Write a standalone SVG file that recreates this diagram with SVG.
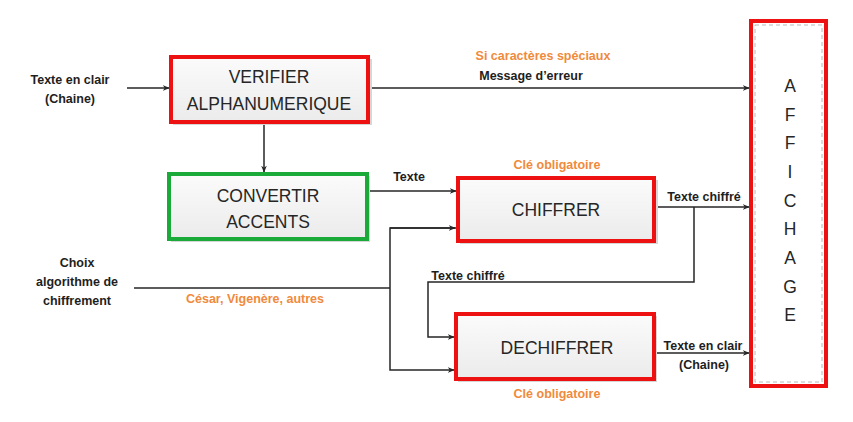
<svg xmlns="http://www.w3.org/2000/svg" width="853" height="422" viewBox="0 0 853 422">
<defs>
<linearGradient id="g" x1="0" y1="0" x2="0" y2="1">
<stop offset="0" stop-color="#fbfbfb"/>
<stop offset="1" stop-color="#ebebeb"/>
</linearGradient>
<marker id="ar" viewBox="0 0 10 10" refX="9" refY="5" markerWidth="7" markerHeight="7" orient="auto" markerUnits="userSpaceOnUse">
<path d="M0,1 L10,5 L0,9 L3,5 Z" fill="#262626"/>
</marker>
</defs>
<style>
.box{fill:url(#g);stroke-width:4}
.red{stroke:#ee1111}
.grn{stroke:#1aaa3a}
.sh{fill:#d6d6d6}
.bt{font-family:"Liberation Sans",Arial,sans-serif;font-size:17.5px;fill:#262626;text-anchor:middle}
.lb{font-family:"Liberation Sans",Arial,sans-serif;font-size:12.5px;font-weight:bold;fill:#1e1e1e;text-anchor:middle}
.or{font-family:"Liberation Sans",Arial,sans-serif;font-size:12.5px;font-weight:bold;fill:#f08a3c;text-anchor:middle}
.ln{fill:none;stroke:#262626;stroke-width:1.5}
</style>
<rect width="853" height="422" fill="#ffffff"/>

<g id="connectors">
<line class="ln" x1="127" y1="88" x2="169" y2="88" marker-end="url(#ar)"/>
<line class="ln" x1="264" y1="124" x2="264" y2="172" marker-end="url(#ar)"/>
<line class="ln" x1="371" y1="88" x2="749" y2="88" marker-end="url(#ar)"/>
<line class="ln" x1="370" y1="191" x2="456" y2="191" marker-end="url(#ar)"/>
<polyline class="ln" points="134,288 390,288"/>
<polyline class="ln" points="456,228 390,228 390,370 454,370" marker-end="url(#ar)"/>
<line class="ln" x1="390" y1="228" x2="455" y2="228" marker-end="url(#ar)"/>
<line class="ln" x1="657" y1="207" x2="749" y2="207" marker-end="url(#ar)"/>
<polyline class="ln" points="694,207 694,282 428,282 428,337 454,337" marker-end="url(#ar)"/>
<line class="ln" x1="657" y1="353" x2="749" y2="353" marker-end="url(#ar)"/>
</g>

<g id="labels">
<text class="lb" x="70" y="84">Texte en clair</text>
<text class="lb" x="70" y="103">(Chaine)</text>
<text class="or" x="543" y="60">Si caractères spéciaux</text>
<text class="lb" x="531" y="80">Message d’erreur</text>
<text class="lb" x="409" y="181">Texte</text>
<text class="or" x="557" y="169">Clé obligatoire</text>
<text class="lb" x="704" y="201">Texte chiffré</text>
<text class="lb" x="77" y="267">Choix</text>
<text class="lb" x="77" y="286">algorithme de</text>
<text class="lb" x="77" y="305">chiffrement</text>
<text class="or" x="255" y="303">César, Vigenère, autres</text>
<text class="lb" x="468" y="280">Texte chiffré</text>
<text class="lb" x="703" y="350">Texte en clair</text>
<text class="lb" x="704" y="369">(Chaine)</text>
<text class="or" x="557" y="398">Clé obligatoire</text>
</g>

<g id="verifier">
<rect class="sh" x="173" y="59" width="199" height="66"/>
<rect class="box red" x="171" y="57" width="197" height="65"/>
<text class="bt" x="269" y="83">VERIFIER</text>
<text class="bt" x="269" y="110">ALPHANUMERIQUE</text>
</g>

<g id="convertir">
<rect class="sh" x="171" y="176" width="199" height="66"/>
<rect class="box grn" x="169" y="174" width="198" height="65"/>
<text class="bt" x="268" y="202">CONVERTIR</text>
<text class="bt" x="268" y="228">ACCENTS</text>
</g>

<g id="chiffrer">
<rect class="sh" x="460" y="180" width="198" height="64"/>
<rect class="box red" x="458" y="178" width="196" height="63"/>
<text class="bt" x="556" y="216">CHIFFRER</text>
</g>

<g id="dechiffrer">
<rect class="sh" x="458" y="316" width="199" height="66"/>
<rect class="box red" x="456" y="314" width="198" height="65"/>
<text class="bt" x="557" y="354">DECHIFFRER</text>
</g>

<g id="affichage">
<rect x="751" y="21" width="75" height="365" fill="#ffffff" stroke="#ee1111" stroke-width="4"/>
<rect x="755" y="25" width="67" height="357" fill="none" stroke="#b8b8b8" stroke-width="1" stroke-dasharray="4,3"/>
<text class="bt" x="790" y="92">A</text>
<text class="bt" x="790" y="121">F</text>
<text class="bt" x="790" y="149">F</text>
<text class="bt" x="790" y="178">I</text>
<text class="bt" x="790" y="207">C</text>
<text class="bt" x="790" y="235">H</text>
<text class="bt" x="790" y="264">A</text>
<text class="bt" x="790" y="293">G</text>
<text class="bt" x="790" y="321">E</text>
</g>
</svg>
